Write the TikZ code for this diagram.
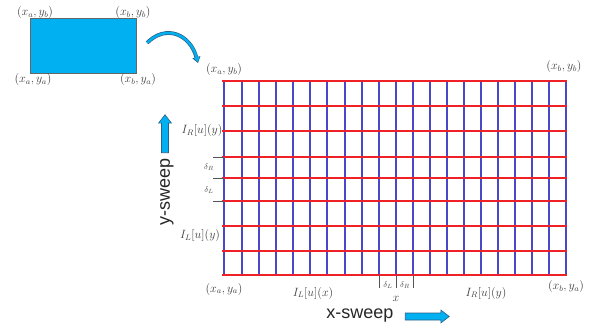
\documentclass[tikz,border=0pt]{standalone}
\usepackage{fontspec}
\newfontfamily\sweepfont{Liberation Sans}
\usetikzlibrary{arrows.meta,shapes.arrows,positioning}

\definecolor{gridred}{RGB}{238,32,40}
\definecolor{gridblue}{RGB}{72,72,200}
\definecolor{skyfill}{RGB}{0,176,240}
\definecolor{skyedge}{RGB}{45,95,135}
\definecolor{tickgray}{RGB}{85,85,85}

\begin{document}
\begin{tikzpicture}[
			x=1pt, y=-1pt,
			corner/.style={
				font=\fontsize{12}{12}\selectfont, text=black!75,
				inner sep=0pt
			},
			dlbl/.style={
				font=\fontsize{8}{8}\selectfont, text=black!70,
				inner sep=0pt
			},
			sweep/.style={
				font=\sweepfont\fontsize{18}{18}\selectfont,
				text=black!85, inner sep=0pt
			},
			blockarr/.style={
				single arrow, draw=skyedge, fill=skyfill,
				line width=0.6pt, inner sep=3.2pt,
				single arrow head extend=3pt, single arrow tip angle=75,
				minimum width=12pt
			},
			domainbox/.style={
				rectangle, draw=black!60, fill=skyfill,
				line width=0.8pt, inner sep=0pt,
				minimum width=106pt, minimum height=55pt
			},
			bline/.style={gridblue, line width=1.8pt},
			rline/.style={gridred, line width=1.8pt},
			tick/.style={tickgray, line width=0.6pt}
			]
			\useasboundingbox (0,0) rectangle (600,331);
			
			%% ── Physical domain (top left) ──────────────────────────────────────
			\node[domainbox] (domain) at (83.7, 45.8) {};
			\node[corner] (dNW) at (35, 13)  {$(x_a,y_b)$};
			\node[corner] (dNE) at (133, 13) {$(x_b,y_b)$};
			\node[corner] (dSW) at (33, 80)  {$(x_a,y_a)$};
			\node[corner] (dSE) at (138, 80) {$(x_b,y_a)$};
			
			%% ── Mesh (blue columns first, red rows on top) ──────────────────────
			\coordinate (landing) at (198, 63);
			\foreach \x in {224,242,259,276,293,310,327,345,362,379,396,
				413,430,447,464,481,498,515,532,549,566}
			\draw[bline] (\x, 80) -- (\x, 275.5);
			\foreach \y in {81,106,131,157,178,201,226,251,275}
			\draw[rline] (222, \y) -- (567, \y);
			
			%% domain -> mesh
			\draw[skyedge, line width=3.8pt, -{Triangle[length=6pt,width=8pt]}]
			([shift={(10pt,3pt)}]domain.east) .. controls (166, 24) and (190, 34) .. (landing);
			\draw[skyfill, line width=2.4pt, -{Triangle[length=4.6pt,width=5.6pt]}]
			([shift={(10pt,3pt)}]domain.east) .. controls (166, 24) and (190, 34) .. ([yshift=1pt]landing);
			
			%% ── Mesh corners ────────────────────────────────────────────────────
			\node[corner] (gNW) at (224, 70)  {$(x_a,y_b)$};
			\node[corner] (gNE) at (564, 67)  {$(x_b,y_b)$};
			\node[corner] (gSW) at (224, 289) {$(x_a,y_a)$};
			\node[corner] (gSE) at (566, 287) {$(x_b,y_a)$};
			
			%% ── Left side: y-direction states ───────────────────────────────────
			\node[corner] (irl) at (202, 131) {$I_R[u](y)$};
			\node[corner] (ill) at (200, 236) {$I_L[u](y)$};
			\foreach \y in {157,178,201}
			\draw[tick] (213, \y) -- (224, \y);
			\node[dlbl] (drl) at (209, 167) {$\delta_R$};
			\node[dlbl] (dll) at (209, 190) {$\delta_L$};
			
			%% ── Bottom side: x-direction states ─────────────────────────────────
			\node[corner] (ilb) at (313, 293) {$I_L[u](x)$};
			\node[corner] (irb) at (486, 293) {$I_R[u](y)$};
			\foreach \x in {379,396,413}
			\draw[tick] (\x, 275) -- (\x, 288);
			\node[dlbl] (dlb) at (388, 285) {$\delta_L$};
			\node[dlbl] (drb) at (405, 285) {$\delta_R$};
			\node[corner] (xpos) at (396, 299) {$x$};
			
			%% ── Sweep directions ────────────────────────────────────────────────
			\node[blockarr, minimum height=38pt, rotate=90] (yarr) at (165, 136) {};
			\node[sweep, rotate=90] (ysweep) at (167, 192) {y-sweep};
			\node[sweep] (xsweep) at (360, 316) {x-sweep};
			\node[blockarr, minimum height=44pt] (xarr) at (425, 316.5) {};
			
		\end{tikzpicture}
\end{document}
